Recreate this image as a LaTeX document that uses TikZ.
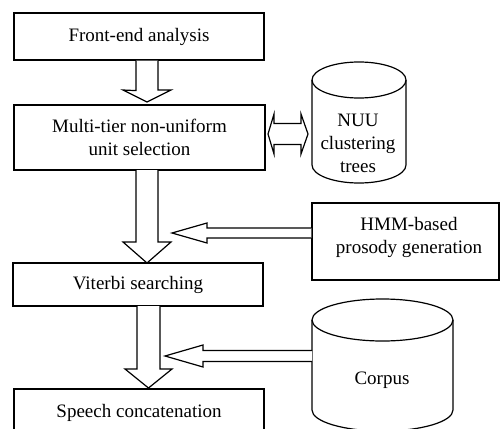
\documentclass[tikz,border=0pt]{standalone}
\usepackage{fontspec}
\setmainfont{Liberation Serif}
\usetikzlibrary{calc}
\tikzset{
  box/.style={draw, line width=1.2pt, rectangle, inner sep=0pt, align=center,
    font=\fontsize{19}{23}\selectfont},
  lbl/.style={inner sep=0pt, align=center, font=\fontsize{19}{23}\selectfont},
  blk/.style={draw, line width=1.2pt, fill=white, line join=miter},
}
\begin{document}
\begin{tikzpicture}[x=1pt,y=-1pt]
\useasboundingbox (0,0) rectangle (500,428);
\begin{scope}
\clip (0,0) rectangle (500,428);
% boxes
\node[box, minimum width=250pt, minimum height=47pt] (fe) at (139,36.5) {Front-end analysis};
\node[box, minimum width=251pt, minimum height=65pt] (mt) at (139.5,137.5) {Multi-tier non-uniform\\unit selection};
\node[box, minimum width=250pt, minimum height=43pt] (vs) at (138,284.5) {Viterbi searching};
\node[box, minimum width=250pt, minimum height=47pt] (sc) at (139,412.5) {Speech concatenation};
\node[box, minimum width=187pt, minimum height=77pt] (hmm) at (405.5,241.5) {};
\node[lbl] (hmmt) at (409,237) {HMM-based\\prosody generation};
% NUU cylinder
\draw[line width=1.2pt] (312,80) -- (312,165) arc[start angle=180,end angle=0,x radius=47,y radius=18] -- (406,80);
\draw[line width=1.2pt] (359,80) ellipse[x radius=47,y radius=18];
\node[lbl] (nuu) at (358,143) {NUU\\clustering\\trees};
\coordinate (nuuw) at (312,134);
% Corpus cylinder
\draw[line width=1.2pt] (312,320) -- (312,410) arc[start angle=180,end angle=0,x radius=70.5,y radius=21] -- (453,320);
\draw[line width=1.2pt] (382.5,320) ellipse[x radius=70.5,y radius=21];
\node[lbl] (corpus) at (382,380) {Corpus};
\coordinate (corw) at (312,356);
% vertical block arrows
\draw[blk] ($(fe.south)+(-3,0)$) -- ++(0,30) -- (123,90) -- (147,102) -- (171,90) -- (158,90) |- ($(fe.south)+(19,0)$);
\draw[blk] (136,170) -- (136,242) -- (123,242) -- (147,263) -- (171,242) -- (158,242) -- (158,170);
\draw[blk] (137,306) -- (137,369) -- (125,369) -- (148.5,388) -- (172,369) -- (160,369) -- (160,306);
% horizontal block arrows
\draw[blk] (hmm.west|-0,228) -- (207,228) -- (207,223) -- (172,233) -- (207,243) -- (207,238) -- (hmm.west|-0,238);
\draw[blk] (corw|-0,350.5) -- (203,350.5) -- (203,345) -- (165,356) -- (203,367) -- (203,361.5) -- (corw|-0,361.5);
% double arrow
\draw[blk] (268,134) -- (274,114) -- (274,123.5) -- (301,123.5) -- (301,114) -- (308,134) -- (301,154) -- (301,144.5) -- (274,144.5) -- (274,154) -- cycle;
\end{scope}
\end{tikzpicture}
\end{document}
